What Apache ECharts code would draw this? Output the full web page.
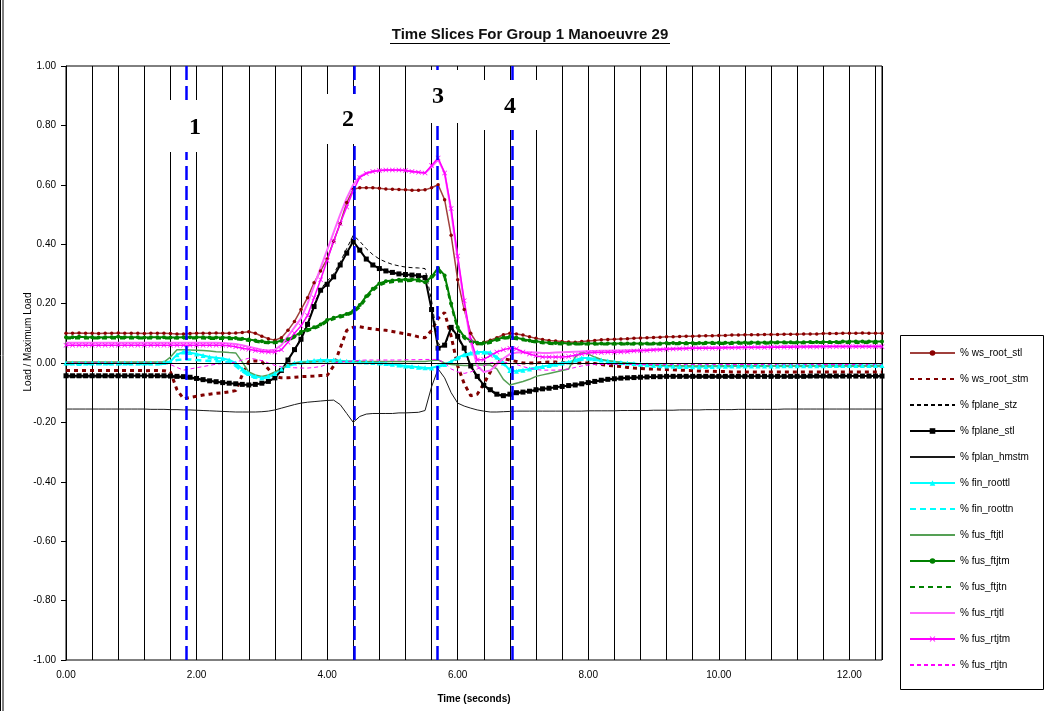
<!DOCTYPE html>
<html>
<head>
<meta charset="utf-8">
<title>Time Slices For Group 1 Manoeuvre 29</title>
<script src="https://cdn.jsdelivr.net/npm/echarts/dist/echarts.min.js"></script>
<style>
  html, body { margin: 0; padding: 0; background: #fff; }
  #chart { width: 1046px; height: 711px; }
</style>
</head>
<body>
<div id="chart"></div>
<script>
// sample times (seconds)
var times = [
  0.0, 0.1, 0.2, 0.3, 0.4, 0.5, 0.6, 0.7, 0.8, 0.9,
  1.0, 1.1, 1.2, 1.3, 1.4, 1.5, 1.6, 1.7, 1.8, 1.9,
  2.0, 2.1, 2.2, 2.3, 2.4, 2.5, 2.6, 2.7, 2.8, 2.9,
  3.0, 3.1, 3.2, 3.3, 3.4, 3.5, 3.6, 3.7, 3.8, 3.9,
  4.0, 4.1, 4.2, 4.3, 4.4, 4.5, 4.6, 4.7, 4.8, 4.9,
  5.0, 5.1, 5.2, 5.3, 5.4, 5.5, 5.6, 5.7, 5.8, 5.9,
  6.0, 6.1, 6.2, 6.3, 6.4, 6.5, 6.6, 6.7, 6.8, 6.9,
  7.0, 7.1, 7.2, 7.3, 7.4, 7.5, 7.6, 7.7, 7.8, 7.9,
  8.0, 8.1, 8.2, 8.3, 8.4, 8.5, 8.6, 8.7, 8.8, 8.9,
  9.0, 9.1, 9.2, 9.3, 9.4, 9.5, 9.6, 9.7, 9.8, 9.9,
  10.0, 10.1, 10.2, 10.3, 10.4, 10.5, 10.6, 10.7, 10.8, 10.9,
  11.0, 11.1, 11.2, 11.3, 11.4, 11.5, 11.6, 11.7, 11.8, 11.9,
  12.0, 12.1, 12.2, 12.3, 12.4, 12.5
];

var wsRootStl = [
  0.100, 0.100, 0.101, 0.100, 0.100, 0.099, 0.100, 0.100, 0.101, 0.100,
  0.100, 0.100, 0.099, 0.100, 0.100, 0.100, 0.099, 0.098, 0.098, 0.099,
  0.100, 0.100, 0.100, 0.101, 0.100, 0.100, 0.101, 0.103, 0.105, 0.100,
  0.090, 0.082, 0.077, 0.085, 0.110, 0.140, 0.180, 0.220, 0.270, 0.310,
  0.350, 0.410, 0.470, 0.540, 0.585, 0.590, 0.590, 0.590, 0.588, 0.586,
  0.585, 0.584, 0.583, 0.582, 0.582, 0.583, 0.590, 0.600, 0.550, 0.430,
  0.280, 0.180, 0.100, 0.065, 0.070, 0.077, 0.085, 0.095, 0.100, 0.098,
  0.094, 0.088, 0.083, 0.079, 0.076, 0.074, 0.072, 0.071, 0.070, 0.072,
  0.074, 0.076, 0.078, 0.079, 0.080, 0.081, 0.082, 0.083, 0.084, 0.085,
  0.086, 0.087, 0.088, 0.088, 0.089, 0.090, 0.090, 0.091, 0.092, 0.092,
  0.093, 0.093, 0.094, 0.094, 0.095, 0.095, 0.095, 0.096, 0.096, 0.096,
  0.097, 0.097, 0.097, 0.098, 0.098, 0.098, 0.099, 0.099, 0.099, 0.100,
  0.100, 0.100, 0.101, 0.100, 0.100, 0.100
];

var wsRootStm = [
  -0.025, -0.025, -0.025, -0.025, -0.025, -0.025, -0.025, -0.025, -0.025, -0.025,
  -0.025, -0.025, -0.026, -0.025, -0.025, -0.026, -0.030, -0.090, -0.120, -0.116,
  -0.112, -0.108, -0.105, -0.102, -0.100, -0.097, -0.093, -0.040, 0.005, 0.007,
  0.005, -0.020, -0.045, -0.050, -0.050, -0.048, -0.046, -0.045, -0.044, -0.042,
  -0.042, -0.010, 0.050, 0.110, 0.120, 0.122, 0.118, 0.115, 0.112, 0.110,
  0.106, 0.102, 0.098, 0.094, 0.088, 0.085, 0.110, 0.150, 0.170, 0.090,
  -0.010, -0.070, -0.110, -0.105, -0.070, -0.030, 0.000, 0.015, 0.010, 0.005,
  0.000, 0.000, 0.000, 0.002, 0.003, 0.003, 0.002, 0.000, 0.000, 0.000,
  0.000, -0.002, -0.005, -0.008, -0.010, -0.012, -0.015, -0.017, -0.018, -0.020,
  -0.020, -0.021, -0.022, -0.023, -0.024, -0.025, -0.026, -0.027, -0.028, -0.028,
  -0.029, -0.029, -0.030, -0.030, -0.030, -0.030, -0.030, -0.030, -0.030, -0.030,
  -0.030, -0.030, -0.030, -0.030, -0.030, -0.030, -0.030, -0.030, -0.030, -0.030,
  -0.030, -0.030, -0.030, -0.030, -0.030, -0.030
];

var fplaneStz = [
  -0.047, -0.047, -0.047, -0.047, -0.047, -0.047, -0.047, -0.047, -0.047, -0.047,
  -0.047, -0.047, -0.047, -0.047, -0.047, -0.047, -0.048, -0.049, -0.050, -0.052,
  -0.055, -0.059, -0.062, -0.065, -0.068, -0.070, -0.072, -0.074, -0.075, -0.074,
  -0.070, -0.064, -0.052, -0.028, 0.008, 0.045, 0.085, 0.135, 0.195, 0.250,
  0.275, 0.300, 0.340, 0.385, 0.430, 0.410, 0.385, 0.365, 0.350, 0.340,
  0.332, 0.327, 0.323, 0.321, 0.320, 0.318, 0.210, 0.065, 0.055, 0.115,
  0.085, 0.045, -0.015, -0.050, -0.080, -0.095, -0.108, -0.113, -0.108, -0.103,
  -0.100, -0.097, -0.093, -0.090, -0.087, -0.084, -0.081, -0.078, -0.076, -0.072,
  -0.068, -0.064, -0.060, -0.057, -0.055, -0.053, -0.052, -0.051, -0.050, -0.049,
  -0.048, -0.048, -0.048, -0.048, -0.048, -0.048, -0.048, -0.048, -0.048, -0.048,
  -0.048, -0.048, -0.048, -0.048, -0.048, -0.048, -0.048, -0.048, -0.048, -0.048,
  -0.048, -0.048, -0.048, -0.048, -0.048, -0.048, -0.048, -0.048, -0.048, -0.048,
  -0.048, -0.048, -0.048, -0.048, -0.048, -0.048
];

var fplaneStl = [
  -0.043, -0.043, -0.043, -0.043, -0.043, -0.043, -0.043, -0.043, -0.043, -0.043,
  -0.043, -0.043, -0.043, -0.043, -0.043, -0.043, -0.044, -0.045, -0.046, -0.048,
  -0.052, -0.056, -0.060, -0.063, -0.066, -0.068, -0.070, -0.072, -0.074, -0.072,
  -0.068, -0.062, -0.050, -0.025, 0.010, 0.045, 0.080, 0.130, 0.190, 0.245,
  0.265, 0.290, 0.330, 0.370, 0.410, 0.380, 0.350, 0.330, 0.318, 0.310,
  0.305, 0.300, 0.298, 0.296, 0.294, 0.288, 0.180, 0.050, 0.060, 0.120,
  0.090, 0.050, -0.010, -0.045, -0.075, -0.090, -0.105, -0.110, -0.105, -0.100,
  -0.098, -0.095, -0.090, -0.087, -0.085, -0.082, -0.079, -0.076, -0.074, -0.070,
  -0.066, -0.062, -0.058, -0.055, -0.053, -0.051, -0.050, -0.049, -0.048, -0.047,
  -0.046, -0.046, -0.045, -0.045, -0.045, -0.045, -0.045, -0.045, -0.045, -0.045,
  -0.045, -0.045, -0.045, -0.045, -0.045, -0.045, -0.045, -0.045, -0.045, -0.045,
  -0.045, -0.045, -0.045, -0.045, -0.044, -0.044, -0.044, -0.044, -0.044, -0.044,
  -0.044, -0.044, -0.044, -0.044, -0.044, -0.044
];

var fplanHmstm = [
  -0.155, -0.155, -0.155, -0.155, -0.155, -0.155, -0.155, -0.155, -0.155, -0.155,
  -0.155, -0.155, -0.155, -0.156, -0.156, -0.156, -0.157, -0.157, -0.158, -0.158,
  -0.159, -0.160, -0.161, -0.162, -0.163, -0.164, -0.165, -0.165, -0.165, -0.165,
  -0.164, -0.162, -0.158, -0.152, -0.146, -0.140, -0.135, -0.132, -0.130, -0.128,
  -0.126, -0.125, -0.140, -0.170, -0.200, -0.180, -0.172, -0.170, -0.170, -0.170,
  -0.170, -0.168, -0.168, -0.167, -0.166, -0.160, -0.080, -0.020, -0.050, -0.100,
  -0.135, -0.145, -0.152, -0.158, -0.162, -0.165, -0.165, -0.164, -0.163, -0.162,
  -0.162, -0.162, -0.162, -0.162, -0.162, -0.162, -0.162, -0.162, -0.162, -0.162,
  -0.161, -0.161, -0.161, -0.161, -0.161, -0.160, -0.160, -0.160, -0.160, -0.160,
  -0.159, -0.159, -0.159, -0.159, -0.158, -0.158, -0.158, -0.158, -0.157, -0.157,
  -0.157, -0.157, -0.157, -0.156, -0.156, -0.156, -0.156, -0.156, -0.156, -0.156,
  -0.155, -0.155, -0.155, -0.155, -0.155, -0.155, -0.155, -0.155, -0.155, -0.155,
  -0.155, -0.155, -0.155, -0.155, -0.155, -0.155
];

var finRoottl = [
  0.000, 0.000, -0.002, 0.000, 0.000, 0.001, 0.000, 0.000, 0.000, 0.000,
  0.000, 0.000, 0.000, 0.000, 0.000, 0.002, 0.005, 0.028, 0.037, 0.035,
  0.030, 0.025, 0.020, 0.018, 0.015, 0.010, 0.000, -0.020, -0.035, -0.045,
  -0.050, -0.045, -0.035, -0.020, -0.008, 0.000, 0.003, 0.005, 0.008, 0.010,
  0.010, 0.010, 0.008, 0.006, 0.005, 0.004, 0.003, 0.002, 0.000, -0.002,
  -0.004, -0.007, -0.010, -0.012, -0.014, -0.016, -0.017, -0.010, -0.005, 0.005,
  0.018, 0.028, 0.034, 0.037, 0.037, 0.035, 0.020, 0.000, -0.025, -0.028,
  -0.024, -0.020, -0.015, -0.012, -0.008, -0.004, 0.000, 0.003, 0.010, 0.017,
  0.017, 0.014, 0.010, 0.007, 0.004, 0.002, 0.000, -0.002, -0.004, -0.006,
  -0.008, -0.009, -0.010, -0.011, -0.012, -0.012, -0.013, -0.013, -0.012, -0.012,
  -0.011, -0.011, -0.010, -0.010, -0.010, -0.010, -0.010, -0.010, -0.010, -0.010,
  -0.009, -0.009, -0.009, -0.009, -0.009, -0.009, -0.009, -0.008, -0.008, -0.008,
  -0.008, -0.008, -0.008, -0.008, -0.008, -0.008
];

var finRoottn = [
  -0.003, -0.003, -0.003, -0.003, -0.003, -0.003, -0.003, -0.003, -0.003, -0.003,
  -0.003, -0.003, -0.003, -0.003, -0.003, -0.003, 0.003, 0.010, 0.012, 0.012,
  0.010, 0.008, 0.007, 0.006, 0.005, 0.002, -0.010, -0.028, -0.042, -0.050,
  -0.052, -0.047, -0.037, -0.022, -0.010, -0.002, 0.002, 0.004, 0.006, 0.008,
  0.008, 0.007, 0.006, 0.005, 0.004, 0.003, 0.002, 0.000, -0.002, -0.004,
  -0.006, -0.009, -0.012, -0.014, -0.016, -0.018, -0.018, -0.012, -0.007, 0.003,
  0.015, 0.025, 0.031, 0.034, 0.034, 0.032, 0.017, -0.003, -0.022, -0.026,
  -0.024, -0.021, -0.017, -0.013, -0.010, -0.006, -0.002, 0.001, 0.006, 0.012,
  0.013, 0.011, 0.008, 0.005, 0.003, 0.001, -0.001, -0.003, -0.005, -0.007,
  -0.008, -0.009, -0.010, -0.011, -0.012, -0.012, -0.012, -0.012, -0.012, -0.012,
  -0.011, -0.011, -0.011, -0.011, -0.011, -0.010, -0.010, -0.010, -0.010, -0.010,
  -0.010, -0.010, -0.010, -0.010, -0.010, -0.010, -0.010, -0.010, -0.010, -0.010,
  -0.010, -0.010, -0.010, -0.010, -0.010, -0.010
];

var fusFtjtl = [
  0.003, 0.003, 0.003, 0.003, 0.003, 0.003, 0.003, 0.003, 0.003, 0.003,
  0.003, 0.003, 0.003, 0.003, 0.003, 0.003, 0.020, 0.045, 0.045, 0.044,
  0.043, 0.042, 0.040, 0.038, 0.037, 0.035, 0.034, 0.003, -0.030, -0.040,
  -0.045, -0.040, -0.030, -0.018, -0.008, 0.000, 0.002, 0.003, 0.004, 0.005,
  0.005, 0.005, 0.005, 0.005, 0.005, 0.005, 0.005, 0.005, 0.005, 0.005,
  0.005, 0.005, 0.005, 0.005, 0.005, 0.005, 0.008, 0.010, 0.000, -0.005,
  -0.007, -0.008, -0.008, -0.007, -0.007, -0.007, -0.020, -0.055, -0.074, -0.068,
  -0.062, -0.055, -0.045, -0.040, -0.035, -0.030, -0.025, -0.020, 0.020, 0.037,
  0.030, 0.020, 0.012, 0.008, 0.005, 0.002, 0.000, -0.002, -0.004, -0.006,
  -0.007, -0.008, -0.008, -0.009, -0.009, -0.010, -0.010, -0.010, -0.010, -0.010,
  -0.010, -0.010, -0.010, -0.010, -0.010, -0.010, -0.010, -0.010, -0.010, -0.010,
  -0.010, -0.010, -0.010, -0.010, -0.010, -0.010, -0.010, -0.010, -0.010, -0.010,
  -0.010, -0.010, -0.010, -0.010, -0.010, -0.010
];

var fusFtjtm = [
  0.087, 0.087, 0.088, 0.087, 0.087, 0.086, 0.087, 0.087, 0.088, 0.087,
  0.087, 0.087, 0.086, 0.087, 0.087, 0.087, 0.086, 0.086, 0.087, 0.087,
  0.087, 0.087, 0.086, 0.086, 0.086, 0.085, 0.084, 0.082, 0.079, 0.076,
  0.073, 0.070, 0.070, 0.075, 0.080, 0.090, 0.105, 0.112, 0.120, 0.130,
  0.145, 0.152, 0.158, 0.165, 0.175, 0.195, 0.225, 0.250, 0.268, 0.275,
  0.278, 0.280, 0.281, 0.281, 0.280, 0.272, 0.290, 0.320, 0.295, 0.200,
  0.120, 0.088, 0.075, 0.068, 0.067, 0.072, 0.080, 0.086, 0.088, 0.085,
  0.080, 0.076, 0.073, 0.070, 0.068, 0.067, 0.067, 0.066, 0.066, 0.066,
  0.066, 0.066, 0.066, 0.066, 0.066, 0.066, 0.066, 0.066, 0.066, 0.066,
  0.066, 0.066, 0.067, 0.067, 0.067, 0.067, 0.067, 0.067, 0.068, 0.068,
  0.068, 0.068, 0.068, 0.069, 0.069, 0.069, 0.069, 0.069, 0.070, 0.070,
  0.070, 0.070, 0.070, 0.070, 0.071, 0.071, 0.071, 0.071, 0.071, 0.072,
  0.072, 0.072, 0.072, 0.072, 0.072, 0.072
];

var fusFtjtn = [
  0.083, 0.083, 0.083, 0.083, 0.083, 0.083, 0.083, 0.083, 0.083, 0.083,
  0.083, 0.083, 0.083, 0.083, 0.083, 0.083, 0.083, 0.083, 0.083, 0.083,
  0.083, 0.083, 0.082, 0.082, 0.082, 0.081, 0.080, 0.078, 0.075, 0.072,
  0.069, 0.067, 0.067, 0.071, 0.076, 0.086, 0.100, 0.108, 0.116, 0.125,
  0.140, 0.148, 0.154, 0.160, 0.170, 0.188, 0.218, 0.244, 0.262, 0.270,
  0.273, 0.275, 0.276, 0.277, 0.276, 0.270, 0.285, 0.312, 0.290, 0.195,
  0.115, 0.083, 0.071, 0.064, 0.063, 0.068, 0.076, 0.082, 0.084, 0.081,
  0.077, 0.073, 0.070, 0.067, 0.065, 0.064, 0.063, 0.063, 0.063, 0.063,
  0.063, 0.063, 0.063, 0.063, 0.063, 0.063, 0.063, 0.063, 0.063, 0.063,
  0.063, 0.063, 0.064, 0.064, 0.064, 0.064, 0.064, 0.064, 0.065, 0.065,
  0.065, 0.065, 0.065, 0.066, 0.066, 0.066, 0.066, 0.066, 0.067, 0.067,
  0.067, 0.067, 0.067, 0.067, 0.068, 0.068, 0.068, 0.068, 0.068, 0.068,
  0.068, 0.068, 0.068, 0.068, 0.068, 0.068
];

var fusRtjtl = [
  0.068, 0.068, 0.068, 0.068, 0.068, 0.068, 0.068, 0.068, 0.068, 0.068,
  0.068, 0.068, 0.068, 0.068, 0.068, 0.068, 0.068, 0.068, 0.068, 0.068,
  0.068, 0.068, 0.068, 0.068, 0.067, 0.066, 0.064, 0.060, 0.055, 0.050,
  0.045, 0.042, 0.045, 0.060, 0.090, 0.120, 0.150, 0.200, 0.260, 0.320,
  0.380, 0.440, 0.500, 0.555, 0.600, 0.628, 0.640, 0.646, 0.648, 0.650,
  0.650, 0.650, 0.648, 0.645, 0.642, 0.640, 0.660, 0.685, 0.640, 0.510,
  0.350, 0.200, 0.070, -0.010, -0.030, -0.025, -0.005, 0.015, 0.030, 0.035,
  0.036, 0.036, 0.035, 0.034, 0.034, 0.035, 0.036, 0.037, 0.038, 0.039,
  0.040, 0.040, 0.041, 0.041, 0.042, 0.042, 0.043, 0.043, 0.044, 0.045,
  0.046, 0.047, 0.048, 0.049, 0.050, 0.050, 0.051, 0.051, 0.052, 0.052,
  0.053, 0.053, 0.053, 0.054, 0.054, 0.054, 0.055, 0.055, 0.055, 0.055,
  0.056, 0.056, 0.056, 0.056, 0.057, 0.057, 0.057, 0.057, 0.058, 0.058,
  0.058, 0.058, 0.058, 0.058, 0.058, 0.058
];

var fusRtjtm = [
  0.060, 0.060, 0.060, 0.060, 0.060, 0.060, 0.060, 0.060, 0.060, 0.060,
  0.060, 0.060, 0.060, 0.060, 0.060, 0.060, 0.060, 0.060, 0.060, 0.060,
  0.060, 0.060, 0.060, 0.060, 0.060, 0.058, 0.055, 0.050, 0.046, 0.042,
  0.039, 0.037, 0.037, 0.045, 0.070, 0.100, 0.125, 0.160, 0.220, 0.280,
  0.345, 0.410, 0.470, 0.525, 0.580, 0.625, 0.638, 0.645, 0.648, 0.650,
  0.650, 0.650, 0.648, 0.645, 0.642, 0.640, 0.665, 0.690, 0.640, 0.520,
  0.360, 0.210, 0.080, 0.010, 0.012, 0.025, 0.037, 0.045, 0.050, 0.048,
  0.037, 0.030, 0.024, 0.020, 0.020, 0.020, 0.020, 0.022, 0.026, 0.030,
  0.034, 0.035, 0.035, 0.036, 0.036, 0.037, 0.038, 0.040, 0.041, 0.042,
  0.044, 0.045, 0.046, 0.047, 0.048, 0.049, 0.050, 0.050, 0.050, 0.050,
  0.050, 0.051, 0.051, 0.051, 0.052, 0.052, 0.052, 0.052, 0.053, 0.053,
  0.053, 0.053, 0.054, 0.054, 0.054, 0.054, 0.055, 0.055, 0.055, 0.055,
  0.055, 0.055, 0.055, 0.055, 0.055, 0.055
];

var fusRtjtn = [
  0.000, 0.000, 0.000, 0.000, 0.000, 0.000, 0.000, 0.000, 0.000, 0.000,
  0.000, 0.000, 0.000, 0.000, 0.000, 0.000, -0.005, -0.015, -0.024, -0.020,
  -0.016, -0.012, -0.008, -0.004, -0.002, 0.000, 0.003, 0.010, 0.016, 0.013,
  0.008, 0.000, -0.008, -0.013, -0.015, -0.016, -0.017, -0.017, -0.015, -0.012,
  -0.004, 0.000, 0.003, 0.005, 0.007, 0.009, 0.010, 0.010, 0.010, 0.010,
  0.010, 0.010, 0.011, 0.011, 0.011, 0.012, 0.012, 0.012, 0.000, -0.020,
  -0.030, -0.035, -0.030, -0.020, -0.010, 0.000, 0.003, 0.003, 0.000, -0.005,
  -0.012, -0.018, -0.022, -0.024, -0.024, -0.024, -0.023, -0.020, -0.015, -0.010,
  -0.007, -0.005, -0.005, -0.005, -0.005, -0.005, -0.005, -0.005, -0.005, -0.005,
  -0.005, -0.005, -0.005, -0.005, -0.005, -0.005, -0.005, -0.005, -0.005, -0.005,
  -0.005, -0.005, -0.005, -0.005, -0.005, -0.005, -0.005, -0.005, -0.005, -0.005,
  -0.005, -0.005, -0.005, -0.005, -0.005, -0.005, -0.005, -0.005, -0.005, -0.005,
  -0.005, -0.005, -0.005, -0.005, -0.005, -0.005
];

// time slices marked on the chart
var sliceTimes = [1.84, 4.42, 5.69, 6.83];
var sliceLabels = ['1', '2', '3', '4'];
var yTicks = [-1, 1, 0.2];
var xTicks = [0, 12.5, 0.4];

var font = 'Liberation Sans';
var crossPath = 'path://M0,1L1,0L5,4L9,0L10,1L6,5L10,9L9,10L5,6L1,10L0,9L4,5Z';

function mk(name, vals, color, width, dash, symbol, size, markColor) {
    return {
        name: name,
        type: 'line',
        data: times.map(function (t, i) { return [t, vals[i]]; }),
        lineStyle: { color: color, width: width, type: dash || 'solid' },
        itemStyle: { color: markColor || color },
        symbol: symbol || 'none',
        symbolSize: size || 4,
        showSymbol: !!symbol,
        showAllSymbol: true,
        animation: false,
        silent: true
    };
}

var series = [
    mk('% ws_root_stl', wsRootStl, '#A0403C', 1.5, null, 'circle', 3.5, '#8B0000'),
    mk('% ws_root_stm', wsRootStm, '#800000', 3, [4, 4]),
    mk('% fplane_stz', fplaneStz, '#000000', 1, [4, 3]),
    mk('% fplane_stl', fplaneStl, '#000000', 2, null, 'rect', 5),
    mk('% fplan_hmstm', fplanHmstm, '#1a1a1a', 1),
    mk('% fin_roottl', finRoottl, '#00FFFF', 2, null, 'triangle', 5),
    mk('% fin_roottn', finRoottn, '#00FFFF', 2.5, [6, 4]),
    mk('% fus_ftjtl', fusFtjtl, '#55A055', 1.5),
    mk('% fus_ftjtm', fusFtjtm, '#008000', 2, null, 'circle', 4),
    mk('% fus_ftjtn', fusFtjtn, '#008000', 2.5, [5, 4]),
    mk('% fus_rtjtl', fusRtjtl, '#FF66FF', 2),
    mk('% fus_rtjtm', fusRtjtm, '#FF00FF', 1.5, null, crossPath, 5),
    mk('% fus_rtjtn', fusRtjtn, '#FF00FF', 1, [4, 3])
];

// blue slice lines + zero line
var marks = sliceTimes.map(function (t) {
    return { xAxis: t, lineStyle: { color: '#0000FF', width: 2.5, type: [14, 6] } };
});
marks.push({ yAxis: 0, lineStyle: { color: '#000000', width: 1, type: 'solid' } });
series[4].markLine = {
    silent: true, symbol: ['none', 'none'], label: { show: false },
    animation: false, data: marks
};

var legendData = series.map(function (s) {
    var d = { name: s.name };
    if (!s.showSymbol) d.itemStyle = { opacity: 0 };
    return d;
});

// white boxes with slice numbers
var boxes = [
    { x: 168, y: 100, w: 52, h: 52, tx: 195, ty: 128 },
    { x: 322, y: 94, w: 56, h: 50, tx: 348, ty: 120 },
    { x: 406, y: 70, w: 76, h: 53, tx: 438, ty: 97 },
    { x: 484, y: 80, w: 56, h: 50, tx: 510, ty: 107 }
];
var graphics = [];
boxes.forEach(function (b, i) {
    graphics.push({ type: 'rect', z: 100, shape: { x: b.x, y: b.y, width: b.w, height: b.h }, style: { fill: '#fff' } });
    graphics.push({ type: 'text', z: 101, x: b.tx, y: b.ty, style: {
        text: sliceLabels[i], font: 'bold 24px "Liberation Serif"', fill: '#000',
        textAlign: 'center', textVerticalAlign: 'middle' } });
});
graphics.push(
    { type: 'text', x: 530, y: 35, style: { text: 'Time Slices For Group 1 Manoeuvre 29',
        font: 'bold 15px "' + font + '"', fill: '#111', textAlign: 'center', textVerticalAlign: 'middle' } },
    { type: 'line', shape: { x1: 390, y1: 43.5, x2: 670, y2: 43.5 }, style: { stroke: '#000', lineWidth: 1 } },
    { type: 'text', x: 28, y: 342, rotation: Math.PI / 2, style: { text: 'Load / Maximum Load',
        font: '10px "' + font + '"', fill: '#000', textAlign: 'center', textVerticalAlign: 'middle' } },
    { type: 'rect', shape: { x: 900.5, y: 335.5, width: 143, height: 354 }, style: { fill: 'none', stroke: '#000', lineWidth: 1 } },
    { type: 'line', shape: { x1: 0.5, y1: 0, x2: 0.5, y2: 711 }, style: { stroke: '#000', lineWidth: 1 } },
    { type: 'line', shape: { x1: 3, y1: 0, x2: 3, y2: 711 }, style: { stroke: '#000', lineWidth: 1 } }
);

var chart = echarts.init(document.getElementById('chart'));
chart.setOption({
    animation: false,
    backgroundColor: '#fff',
    grid: { left: 66, right: 164, top: 66, bottom: 51, show: true, borderColor: '#000', borderWidth: 1 },
    xAxis: {
        type: 'value', min: xTicks[0], max: xTicks[1], interval: xTicks[2],
        name: 'Time (seconds)', nameLocation: 'middle', nameGap: 34,
        nameTextStyle: { fontFamily: font, fontSize: 10, fontWeight: 'bold', color: '#000' },
        axisLine: { lineStyle: { color: '#000' } },
        axisTick: { show: false },
        splitLine: { show: true, lineStyle: { color: '#000', width: 1 } },
        axisLabel: {
            fontFamily: font, fontSize: 10, color: '#000', margin: 10,
            formatter: function (v) {
                var k = Math.round(v * 10);
                return k % 20 === 0 ? v.toFixed(2) : '';
            }
        }
    },
    yAxis: {
        type: 'value', min: yTicks[0], max: yTicks[1], interval: yTicks[2],
        axisLine: { show: true, lineStyle: { color: '#000' } },
        axisTick: { show: true, length: 5, lineStyle: { color: '#000' } },
        splitLine: { show: false },
        axisLabel: {
            fontFamily: font, fontSize: 10, color: '#000', margin: 10,
            formatter: function (v) { return v.toFixed(2); }
        }
    },
    legend: {
        orient: 'vertical', left: 909, top: 347, padding: 0,
        itemWidth: 45, itemHeight: 7, itemGap: 14,
        selectedMode: false,
        textStyle: { fontFamily: font, fontSize: 10, color: '#000', lineHeight: 12 },
        data: legendData
    },
    graphic: graphics,
    series: series
});
</script>
</body>
</html>
